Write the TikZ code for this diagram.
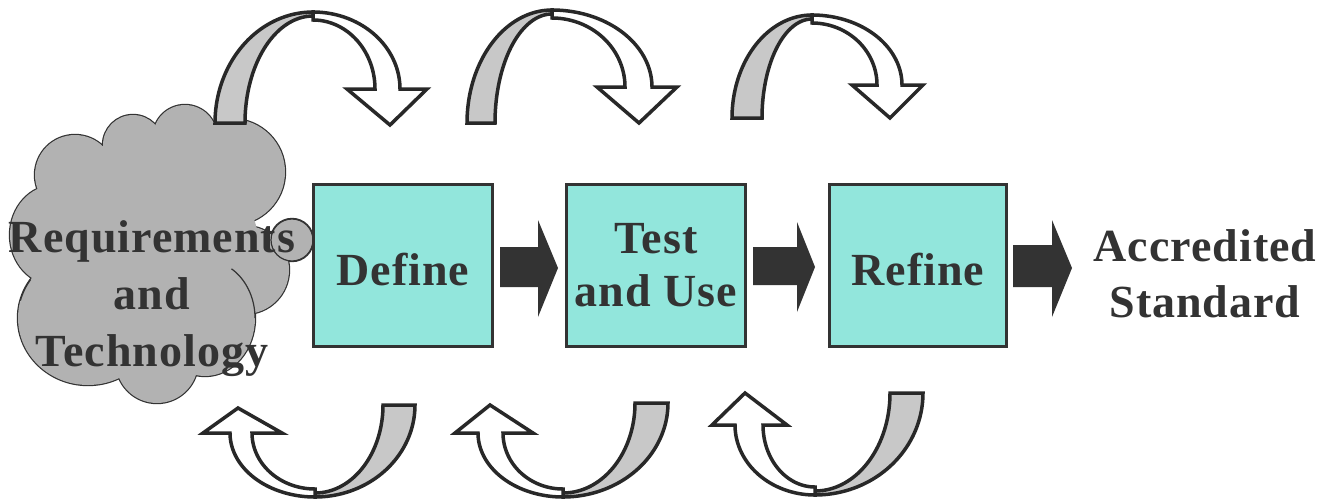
\documentclass[tikz,border=0pt]{standalone}
\usepackage{fontspec}
\setmainfont{Liberation Serif}[LetterSpace=2.2]
\definecolor{boxfill}{RGB}{146,230,220}
\definecolor{ink}{RGB}{51,51,51}
\definecolor{cloudgray}{RGB}{178,178,178}
\definecolor{bandgray}{RGB}{200,200,200}
\definecolor{edgecol}{RGB}{40,40,40}
\tikzset{
  stagebox/.style={draw=ink, line width=3pt, fill=boxfill, minimum width=179pt,
    minimum height=162pt, inner sep=0pt, text=ink,
    font=\bfseries\fontsize{46}{53}\selectfont},
  blockarrow/.style={fill=ink},
  backband/.style={fill=bandgray, draw=edgecol, line width=3.5pt, line join=miter},
  frontband/.style={fill=white, draw=edgecol, line width=3.5pt, line join=miter, miter limit=10},
  lobe/.style={fill=cloudgray, draw=ink, line width=2.4pt},
  lobefill/.style={fill=cloudgray},
  cloudline/.style={draw=ink, line width=1.2pt},
  bigtext/.style={text=ink, font=\bfseries\fontsize{46}{57}\selectfont, align=center, inner sep=0pt},
}
\begin{document}
\begin{tikzpicture}[x=1pt,y=-1pt]
\useasboundingbox (0,0) rectangle (1321,498);
\fill[white] (0,0) rectangle (1321,498);

% ---------- cloud ----------
\foreach \cx/\cy/\rx/\ry in {75/175/40/40,133/145/30/30,185/137/32/32,232/172/53/53,
    292/240/21/21,245/270/44/44,205/318/50/58,157/362/41/41,88/318/70/67,55/235/45/50}
  {\path[lobe] (\cx,\cy) ellipse[x radius=\rx, y radius=\ry];}
\foreach \cx/\cy/\rx/\ry in {75/175/40/40,133/145/30/30,185/137/32/32,232/172/53/53,
    292/240/21/21,245/270/44/44,205/318/50/58,157/362/41/41,88/318/70/67,55/235/45/50,
    150/255/110/110}
  {\path[lobefill] (\cx,\cy) ellipse[x radius=\rx, y radius=\ry];}
\draw[cloudline] plot[domain=-58:0, samples=30, variable=\t] ({205+50*cos(\t)},{318+58*sin(\t)});
\draw[cloudline] plot[domain=195:215, samples=20, variable=\t] ({88+70*cos(\t)},{318+67*sin(\t)});
\node[bigtext] (req) at (152,299) {Requirements\\and\\Technology};
\draw[cloudline] (292,240) circle[radius=21];

% ---------- top curved arrows ----------
% arrow 1
\filldraw[backband] plot[domain=180:270, samples=40, variable=\t] ({313+98*cos(\t)},{123+111*sin(\t)})
  -- plot[domain=270:180, samples=40, variable=\t] ({313+68*cos(\t)},{123+107*sin(\t)}) -- cycle;
\filldraw[frontband] plot[domain=270:360, samples=40, variable=\t] ({313+87*cos(\t)},{89+77*sin(\t)})
  -- (427,89) -- (390,125) -- (347,89)
  -- plot[domain=360:270, samples=40, variable=\t] ({313+62*cos(\t)},{89+69*sin(\t)}) -- cycle;
% arrow 2
\filldraw[backband] plot[domain=180:270, samples=40, variable=\t] ({552+85*cos(\t)},{123+113*sin(\t)})
  -- plot[domain=270:180, samples=40, variable=\t] ({552+57*cos(\t)},{123+109*sin(\t)}) -- cycle;
\filldraw[frontband] plot[domain=270:360, samples=40, variable=\t] ({552+100*cos(\t)},{87+77*sin(\t)})
  -- (677,87) -- (639,123) -- (597,87)
  -- plot[domain=360:270, samples=40, variable=\t] ({552+73*cos(\t)},{87+69*sin(\t)}) -- cycle;
% arrow 3
\filldraw[backband] plot[domain=180:270, samples=40, variable=\t] ({812+80*cos(\t)},{118+103*sin(\t)})
  -- plot[domain=270:180, samples=40, variable=\t] ({812+50*cos(\t)},{118+99*sin(\t)}) -- cycle;
\filldraw[frontband] plot[domain=270:360, samples=40, variable=\t] ({812+90*cos(\t)},{85+70*sin(\t)})
  -- (923,85) -- (890,118) -- (852,85)
  -- plot[domain=360:270, samples=40, variable=\t] ({812+65*cos(\t)},{85+62*sin(\t)}) -- cycle;

% ---------- bottom curved arrows ----------
% arrow 1
\filldraw[backband] plot[domain=0:90, samples=40, variable=\t] ({315+100*cos(\t)},{405+92*sin(\t)})
  -- plot[domain=90:0, samples=40, variable=\t] ({315+68*cos(\t)},{405+88*sin(\t)}) -- cycle;
\filldraw[frontband] plot[domain=90:180, samples=40, variable=\t] ({315+85*cos(\t)},{433+64*sin(\t)})
  -- (203,433) -- (238,408) -- (282,433)
  -- plot[domain=180:90, samples=40, variable=\t] ({315+63*cos(\t)},{433+56*sin(\t)}) -- cycle;
% arrow 2
\filldraw[backband] plot[domain=0:90, samples=40, variable=\t] ({563+105*cos(\t)},{403+94*sin(\t)})
  -- plot[domain=90:0, samples=40, variable=\t] ({563+72*cos(\t)},{403+90*sin(\t)}) -- cycle;
\filldraw[frontband] plot[domain=90:180, samples=40, variable=\t] ({563+85*cos(\t)},{433+64*sin(\t)})
  -- (455,433) -- (490,405) -- (533,433)
  -- plot[domain=180:90, samples=40, variable=\t] ({563+60*cos(\t)},{433+56*sin(\t)}) -- cycle;
% arrow 3
\filldraw[backband] plot[domain=0:90, samples=40, variable=\t] ({815+108*cos(\t)},{393+102*sin(\t)})
  -- plot[domain=90:0, samples=40, variable=\t] ({815+75*cos(\t)},{393+98*sin(\t)}) -- cycle;
\filldraw[frontband] plot[domain=90:180, samples=40, variable=\t] ({815+80*cos(\t)},{425+70*sin(\t)})
  -- (712,425) -- (745,393) -- (787,425)
  -- plot[domain=180:90, samples=40, variable=\t] ({815+52*cos(\t)},{425+62*sin(\t)}) -- cycle;

% ---------- boxes ----------
\node[stagebox, text height=39pt, text depth=0pt] (define) at (403,265.5) {Define};
\node[stagebox, align=center] (test) at (656,265.5) {Test\\and Use};
\node[stagebox, minimum width=177pt, text height=39pt, text depth=0pt] (refine) at (918,265.5) {Refine};
\node[bigtext, font=\bfseries\fontsize{46}{56}\selectfont] (std) at (1205,274) {Accredited\\Standard};

% ---------- block arrows ----------
\fill[blockarrow] (500,247) -- (538,247) -- (538,220) -- (558,268) -- (538,317) -- (538,287) -- (500,287) -- cycle;
\fill[blockarrow] (753,247) -- (797,247) -- (797,222) -- (815,267) -- (797,312) -- (797,285) -- (753,285) -- cycle;
\fill[blockarrow] (1013,245) -- (1052,245) -- (1052,220) -- (1072,268) -- (1052,317) -- (1052,287) -- (1013,287) -- cycle;
\end{tikzpicture}
\end{document}
